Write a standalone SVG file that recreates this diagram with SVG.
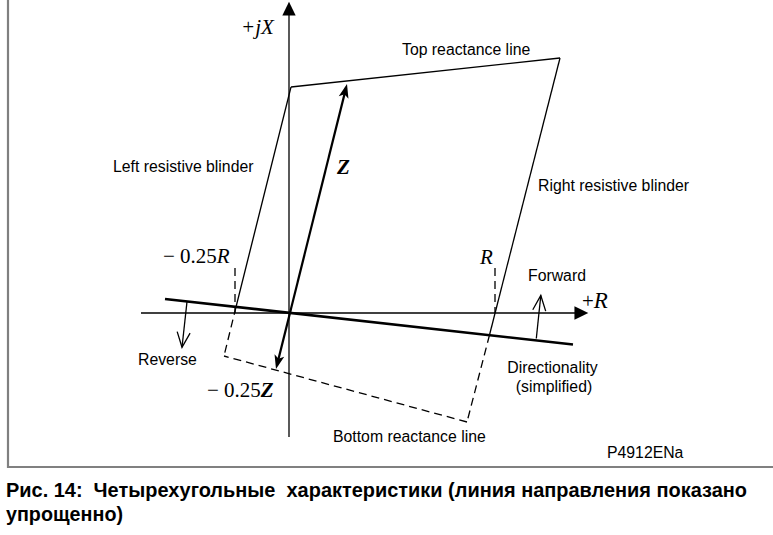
<svg xmlns="http://www.w3.org/2000/svg" width="773" height="535" viewBox="0 0 773 535">
<style>
.ln{fill:none;stroke:#000;stroke-width:1.3}
.dash{fill:none;stroke:#000;stroke-width:1.3;stroke-dasharray:8,5}
.thick{fill:none;stroke:#000;stroke-width:2.6}
.zl{fill:none;stroke:#000;stroke-width:2.2}
.sans{font-family:"Liberation Sans",Arial,sans-serif;font-size:15.8px;fill:#000}
.ser{font-family:"Liberation Serif","Times New Roman",serif;font-size:21px;fill:#000}
.it{font-style:italic}
.bi{font-style:italic;font-weight:bold}
.cap{font-family:"Liberation Sans",Arial,sans-serif;font-size:19.5px;font-weight:bold;fill:#000}
.frame{fill:none;stroke:#808080;stroke-width:2.2}
</style>
<defs>
<marker id="axisHead" markerUnits="userSpaceOnUse" markerWidth="20" markerHeight="20" viewBox="-14 -8 18 16" refX="-3" refY="0" orient="auto" overflow="visible">
<path d="M0,0 L-12.5,-6 L-12.5,6 z" fill="#000"/>
</marker>
<marker id="zHead" markerUnits="userSpaceOnUse" markerWidth="20" markerHeight="20" viewBox="-16 -8 20 16" refX="-4" refY="0" orient="auto-start-reverse" overflow="visible">
<path d="M0,0 L-14,-5 L-10.5,0 L-14,5 z" fill="#000"/>
</marker>
<marker id="openHead" markerUnits="userSpaceOnUse" markerWidth="20" markerHeight="20" viewBox="-16 -8 20 16" refX="0" refY="0" orient="auto" overflow="visible">
<path d="M-15,-6.5 L0,0 L-15,6.5" fill="none" stroke="#000" stroke-width="1.3"/>
</marker>
</defs>

<g id="frame">
<path class="frame" d="M8,0 L8,467 L773,467"/>
</g>

<g id="connectors">
<g id="axes">
<line id="axis-x" class="ln" x1="141" y1="313" x2="585" y2="313" marker-end="url(#axisHead)"/>
<line id="axis-y" class="ln" x1="289" y1="437" x2="289" y2="5" marker-end="url(#axisHead)"/>
</g>
<g id="quadrilateral">
<line id="top-reactance" class="ln" x1="291" y1="87" x2="560" y2="58"/>
<line id="left-blinder" class="ln" x1="291" y1="87" x2="236" y2="307"/>
<line id="left-blinder-ext" class="dash" x1="236" y1="307" x2="224" y2="356"/>
<line id="right-blinder" class="ln" x1="560" y1="58" x2="489.5" y2="335"/>
<line id="right-blinder-ext" class="dash" x1="489.5" y1="335" x2="467" y2="422"/>
<line id="bottom-reactance" class="dash" x1="467" y1="422" x2="224" y2="356"/>
</g>
<g id="markers">
<line id="mark-neg-r" class="dash" x1="235" y1="268" x2="235" y2="313"/>
<line id="mark-r" class="dash" x1="495" y1="268" x2="495" y2="313"/>
</g>
<line id="directional" class="thick" x1="165" y1="299" x2="573" y2="344.5"/>
<line id="z-vector" class="zl" x1="276.97" y1="365.12" x2="346.03" y2="87.88" marker-start="url(#zHead)" marker-end="url(#zHead)"/>
<line id="forward-arrow" class="ln" x1="536.3" y1="338.5" x2="540.8" y2="295.5" marker-end="url(#openHead)"/>
<line id="reverse-arrow" class="ln" x1="187" y1="301.6" x2="182" y2="347.3" marker-end="url(#openHead)"/>
</g>

<g id="label-jx"><text class="ser it" x="241" y="34" font-size="21.5">+jX</text></g>
<g id="label-plus-r"><text class="ser" x="582" y="308"><tspan>+</tspan><tspan class="it" font-size="23">R</tspan></text></g>
<g id="label-top"><text class="sans" x="402" y="55">Top reactance line</text></g>
<g id="label-left"><text class="sans" x="113" y="172">Left resistive blinder</text></g>
<g id="label-right"><text class="sans" x="538" y="191">Right resistive blinder</text></g>
<g id="label-z"><text class="ser bi" x="337" y="174" font-size="22.5">Z</text></g>
<g id="label-neg-r"><text class="ser" x="163" y="263" font-size="21.5">− 0.25<tspan class="it">R</tspan></text></g>
<g id="label-r"><text class="ser it" x="480" y="264">R</text></g>
<g id="label-forward"><text class="sans" x="528" y="281">Forward</text></g>
<g id="label-reverse"><text class="sans" x="138" y="365">Reverse</text></g>
<g id="label-neg-z"><text class="ser" x="207" y="397" font-size="21.5">− 0.25<tspan class="bi">Z</tspan></text></g>
<g id="label-bottom"><text class="sans" x="333" y="442">Bottom reactance line</text></g>
<g id="label-directionality"><text class="sans" x="552.5" y="373" text-anchor="middle">Directionality</text><text class="sans" x="554" y="392" text-anchor="middle">(simplified)</text></g>
<g id="label-ref"><text class="sans" x="607" y="458">P4912ENa</text></g>

<g id="caption">
<text class="cap" x="6" y="497" xml:space="preserve" textLength="741" lengthAdjust="spacingAndGlyphs">Рис. 14:  Четырехугольные  характеристики (линия направления показано</text>
<text class="cap" x="6" y="521" textLength="117" lengthAdjust="spacingAndGlyphs">упрощенно)</text>
</g>
</svg>
